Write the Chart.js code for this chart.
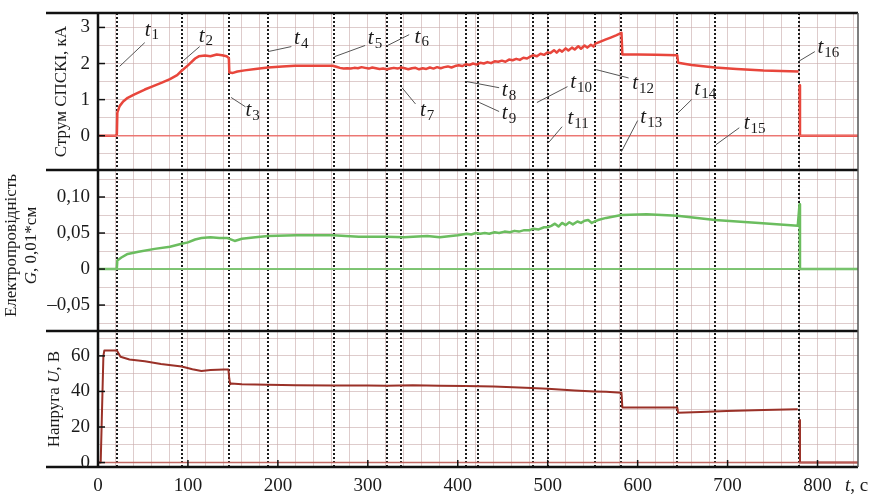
<!DOCTYPE html>
<html>
<head>
<meta charset="utf-8">
<script src="https://cdn.jsdelivr.net/npm/chart.js@4"></script>
<style>
  html, body { margin: 0; padding: 0; background: #fff; }
</style>
</head>
<body>
<canvas id="chart" width="876" height="496"></canvas>
<script>
// --- data ---
const timeMarks = [21, 93, 146, 189, 262, 321, 337, 409, 423, 484, 500, 553, 582, 644, 686, 779];

const currentT = [0, 20, 21, 21.5, 24, 28, 33, 40, 52, 60, 71, 80, 88, 93, 100, 108, 112, 119, 125, 132, 138, 143, 145.5, 146, 150, 155, 163, 175, 189, 205, 219, 240,
  261, 265, 269, 273, 277, 281, 285, 289, 293, 297, 301, 305, 309, 313, 317, 321, 325, 329, 333, 337, 341, 345, 349, 353, 357, 361, 365, 369, 373, 377, 381, 385, 389, 393, 397,
  401, 405, 409, 413, 417, 421, 425, 429, 433, 437, 441, 445, 449, 453, 457, 461, 465, 469, 473, 477, 481, 484, 488, 492, 496,
  500, 503, 507, 510, 513, 516, 520, 523, 527, 530, 534, 537, 541, 544, 548, 551, 553, 558, 564, 570, 576, 582,
  583, 600, 620, 644, 645, 660, 686, 710, 740, 779, 779.5, 780, 780.5, 845];
const currentKA = [0, 0, 0.05, 0.64, 0.82, 0.95, 1.05, 1.14, 1.28, 1.36, 1.47, 1.57, 1.68, 1.8, 1.95, 2.14, 2.2, 2.22, 2.2, 2.25, 2.23, 2.2, 2.15, 1.75, 1.74, 1.78, 1.81, 1.85, 1.89, 1.92, 1.94, 1.94,
  1.94, 1.91, 1.88, 1.86, 1.87, 1.86, 1.88, 1.87, 1.9, 1.88, 1.86, 1.89, 1.87, 1.85, 1.86, 1.84, 1.86, 1.88, 1.86, 1.89, 1.87, 1.84, 1.87, 1.88, 1.84, 1.87, 1.85, 1.89, 1.86, 1.9, 1.87, 1.9, 1.92, 1.89, 1.93,
  1.95, 1.93, 1.98, 1.96, 2.0, 1.97, 2.02, 2.0, 2.04, 2.01, 2.06, 2.05, 2.08, 2.05, 2.11, 2.09, 2.13, 2.1, 2.16, 2.14, 2.2, 2.23, 2.2, 2.27, 2.24,
  2.31, 2.29, 2.37, 2.3, 2.38, 2.33, 2.42, 2.36, 2.44, 2.39, 2.48, 2.41, 2.5, 2.44, 2.52, 2.47, 2.55, 2.6, 2.66, 2.72, 2.78, 2.85,
  2.25, 2.25, 2.24, 2.23, 2.02, 1.96, 1.89, 1.85, 1.81, 1.78, null, 1.4, 0, 0];

const condT = [0, 20, 21, 21.5, 26, 33, 45, 63, 80, 93, 100, 108, 115, 125, 135, 144, 152, 160, 175, 189, 220, 261, 290, 321, 340, 366, 380,
  400, 405, 410, 415, 420, 425, 430, 435, 441, 446, 452, 458, 463, 468, 474, 480, 484, 490, 496, 500, 504, 508, 512, 516, 520, 524, 528, 533, 537, 541, 545, 549, 552, 556,
  565, 582, 610, 644, 686, 735, 778, 780, 780.5, 845];
const condG = [0, 0, 0.002, 0.012, 0.016, 0.021, 0.024, 0.028, 0.031, 0.035, 0.037, 0.041, 0.043, 0.044, 0.043, 0.043, 0.039, 0.042, 0.044, 0.046, 0.047, 0.047, 0.045, 0.045, 0.044, 0.046, 0.044,
  0.047, 0.048, 0.049, 0.048, 0.05, 0.049, 0.05, 0.049, 0.051, 0.05, 0.052, 0.051, 0.053, 0.052, 0.054, 0.054, 0.056, 0.055, 0.058, 0.058, 0.06, 0.063, 0.059, 0.064, 0.061, 0.065, 0.062, 0.066, 0.064, 0.067, 0.068, 0.064, 0.066, 0.068,
  0.071, 0.075, 0.076, 0.074, 0.068, 0.064, 0.06, 0.09, 0, 0];

const voltT = [0, 3, 6, 7, 15, 21, 25, 35, 52, 70, 93, 105, 115, 125, 140, 145, 146, 147, 148, 160, 189, 220, 261, 300, 321, 350, 380, 408, 440, 482, 500, 530, 552, 565, 582,
  583, 600, 644, 645, 670, 699, 740, 778, 779, 780, 780.5, 845];
const voltU = [0, 0, 60, 63, 63, 63, 59.5, 58, 57, 55.5, 54, 52.5, 51.5, 52, 52.3, 52.3, 47, 44, 44.5, 44, 43.8, 43.5, 43.3, 43.4, 43.2, 43.5, 43.2, 43, 42.8, 42, 41.5, 40.5, 40, 39.8, 39.3,
  31, 31, 31, 28, 28.5, 29, 29.5, 30, null, 24, 0, 0];

const baseT = [0, 845];
const baseZero = [0, 0];

// tick values: grid lines and the labelled ones
const gridI = [-0.5, 0, 0.5, 1, 1.5, 2, 2.5, 3];
const labelsI = [0, 1, 2, 3];
const gridG = [-0.075, -0.05, -0.025, 0, 0.025, 0.05, 0.075, 0.1, 0.125];
const labelsG = [-0.05, 0, 0.05, 0.1];
const gridU = [0, 10, 20, 30, 40, 50, 60, 70];
const labelsU = [0, 20, 40, 60];
const labelsX = [0, 100, 200, 300, 400, 500, 600, 700, 800];

// t_i labels: leader line start/end and text position, in (s, kA) of the top panel
const markLabels = [
  { n: 1, from: [24, 1.92], to: [52, 2.58], at: [52, 2.92] },
  { n: 2, from: [94, 2.06], to: [113, 2.47], at: [112, 2.76] },
  { n: 3, from: [148, 1.06], to: [164, 0.8], at: [164, 0.69] },
  { n: 4, from: [189, 2.33], to: [215, 2.47], at: [218, 2.69] },
  { n: 5, from: [263, 2.19], to: [297, 2.5], at: [300, 2.69] },
  { n: 6, from: [322, 2.5], to: [346, 2.8], at: [352, 2.72] },
  { n: 7, from: [338, 1.33], to: [353, 0.88], at: [358, 0.69] },
  { n: 8, from: [410, 1.5], to: [446, 1.33], at: [449, 1.25] },
  { n: 9, from: [424, 0.92], to: [446, 0.67], at: [449, 0.61] },
  { n: 10, from: [488, 0.92], to: [522, 1.36], at: [525, 1.47] },
  { n: 11, from: [501, -0.19], to: [516, 0.25], at: [522, 0.47] },
  { n: 12, from: [554, 1.83], to: [590, 1.6], at: [594, 1.44] },
  { n: 13, from: [582, -0.44], to: [600, 0.42], at: [603, 0.5] },
  { n: 14, from: [644, 0.61], to: [660, 1.0], at: [663, 1.28] },
  { n: 15, from: [687, -0.25], to: [713, 0.22], at: [718, 0.33] },
  { n: 16, from: [779, 2.06], to: [797, 2.33], at: [800, 2.44] }
];

const SERIF = '"Liberation Serif", "DejaVu Serif", serif';

function pairs(xs, ys) {
  return xs.map((x, i) => ({ x: x, y: ys[i] }));
}

function isLabel(list, v) {
  return list.some(l => Math.abs(l - v) < 1e-9);
}

const fmtInt = v => String(Math.round(v));
const fmtG = v => {
  if (Math.abs(v) < 1e-9) return '0';
  return (v < 0 ? '–' : '') + Math.abs(v).toFixed(2).replace('.', ',');
};

const gridColor = 'rgba(200,170,170,0.6)';

function yAxis(grid, opts) {
  return Object.assign({
    type: 'linear',
    position: 'left',
    stack: 'panels',
    grid: { color: gridColor, drawTicks: false },
    border: { display: false },
    afterFit: s => { s.width = 98; },
    afterBuildTicks: s => { s.ticks = grid.map(v => ({ value: v })); },
    ticks: { display: false, autoSkip: false }
  }, opts);
}

// rotated axis title made of regular / italic pieces
function drawTitle(ctx, parts, cx, cy) {
  ctx.save();
  ctx.translate(cx, cy);
  ctx.rotate(-Math.PI / 2);
  ctx.textBaseline = 'middle';
  ctx.textAlign = 'left';
  let total = 0;
  parts.forEach(p => {
    ctx.font = (p[1] ? 'italic ' : '') + '17px ' + SERIF;
    total += ctx.measureText(p[0]).width;
  });
  let x = -total / 2;
  parts.forEach(p => {
    ctx.font = (p[1] ? 'italic ' : '') + '17px ' + SERIF;
    ctx.fillText(p[0], x, 0);
    x += ctx.measureText(p[0]).width;
  });
  ctx.restore();
}

const decor = {
  id: 'decor',
  beforeDatasetsDraw(chart) {
    const { ctx, chartArea: a, scales } = chart;
    ctx.save();
    ctx.strokeStyle = '#1c1c1c';
    ctx.lineWidth = 2;
    ctx.setLineDash([2, 2]);
    timeMarks.forEach(t => {
      const px = Math.round(scales.x.getPixelForValue(t));
      ctx.beginPath();
      ctx.moveTo(px, a.top);
      ctx.lineTo(px, a.bottom);
      ctx.stroke();
    });
    ctx.restore();
  },
  afterDraw(chart) {
    const { ctx, chartArea: a, scales } = chart;
    const { x, yI, yG, yU } = scales;
    ctx.save();

    // panel frames
    ctx.strokeStyle = '#111';
    ctx.lineWidth = 2.5;
    [a.top, yI.bottom, yG.bottom, a.bottom].forEach(y => {
      ctx.beginPath();
      ctx.moveTo(a.left - 52, y);
      ctx.lineTo(a.right, y);
      ctx.stroke();
    });
    ctx.beginPath();
    ctx.moveTo(a.left, a.top);
    ctx.lineTo(a.left, a.bottom);
    ctx.stroke();
    ctx.strokeStyle = '#555';
    ctx.lineWidth = 1.5;
    ctx.beginPath();
    ctx.moveTo(a.right, a.top);
    ctx.lineTo(a.right, a.bottom);
    ctx.stroke();

    // y tick labels and inward tick marks
    ctx.strokeStyle = '#111';
    ctx.lineWidth = 1.5;
    ctx.fillStyle = '#1a1a1a';
    ctx.font = '19px ' + SERIF;
    ctx.textAlign = 'right';
    ctx.textBaseline = 'middle';
    [[yI, labelsI, fmtInt], [yG, labelsG, fmtG], [yU, labelsU, fmtInt]].forEach(([s, vals, fmt]) => vals.forEach(v => {
      const py = s.getPixelForValue(v);
      ctx.beginPath();
      ctx.moveTo(a.left, py);
      ctx.lineTo(a.left + 7, py);
      ctx.stroke();
      ctx.fillText(fmt(v), a.left - 8, py);
    }));
    labelsX.slice(1).forEach(v => {
      const px = x.getPixelForValue(v);
      ctx.beginPath();
      ctx.moveTo(px, a.bottom);
      ctx.lineTo(px, a.bottom - 7);
      ctx.stroke();
    });

    // axis titles
    drawTitle(ctx, [['Струм СПСКІ, кА', false]], 62, (yI.top + yI.bottom) / 2);
    const gMid = (yG.top + yG.bottom) / 2 - 5;
    drawTitle(ctx, [['Електропровідність', false]], 12, gMid);
    drawTitle(ctx, [['G', true], [', 0,01*см', false]], 32, gMid);
    drawTitle(ctx, [['Напруга ', false], ['U', true], [', В', false]], 55, (yU.top + yU.bottom) / 2);

    // t_i labels with leader lines
    ctx.strokeStyle = '#555';
    ctx.lineWidth = 1;
    ctx.textBaseline = 'middle';
    ctx.textAlign = 'left';
    markLabels.forEach(m => {
      ctx.beginPath();
      ctx.moveTo(x.getPixelForValue(m.from[0]), yI.getPixelForValue(m.from[1]));
      ctx.lineTo(x.getPixelForValue(m.to[0]), yI.getPixelForValue(m.to[1]));
      ctx.stroke();
      const px = x.getPixelForValue(m.at[0]);
      const py = yI.getPixelForValue(m.at[1]);
      ctx.font = 'italic 21px ' + SERIF;
      ctx.fillText('t', px, py);
      const w = ctx.measureText('t').width;
      ctx.font = '15px ' + SERIF;
      ctx.fillText(String(m.n), px + w + 1, py + 5);
    });

    // unit at the right end of the time axis
    ctx.font = 'italic 19px ' + SERIF;
    const ux = a.right - 13;
    const uy = a.bottom + 19;
    ctx.fillText('t', ux, uy);
    const tw = ctx.measureText('t').width;
    ctx.font = '19px ' + SERIF;
    ctx.fillText(', с', ux + tw, uy);

    ctx.restore();
  }
};

const lineStyle = { pointRadius: 0, tension: 0, spanGaps: false, borderJoinStyle: 'round' };

new Chart(document.getElementById('chart'), {
  type: 'line',
  data: {
    datasets: [
      Object.assign({ data: pairs(baseT, baseZero), yAxisID: 'yI', borderColor: 'rgba(236,110,105,0.9)', borderWidth: 1.5 }, lineStyle),
      Object.assign({ data: pairs(currentT, currentKA), yAxisID: 'yI', borderColor: '#e8463c', borderWidth: 2.5 }, lineStyle),
      Object.assign({ data: pairs(baseT, baseZero), yAxisID: 'yG', borderColor: 'rgba(120,195,110,0.95)', borderWidth: 2 }, lineStyle),
      Object.assign({ data: pairs(condT, condG), yAxisID: 'yG', borderColor: '#6bbd5f', borderWidth: 2.5 }, lineStyle),
      Object.assign({ data: pairs(baseT, baseZero), yAxisID: 'yU', borderColor: 'rgba(190,95,90,0.9)', borderWidth: 1.5 }, lineStyle),
      Object.assign({ data: pairs(voltT, voltU), yAxisID: 'yU', borderColor: '#9a3128', borderWidth: 2 }, lineStyle)
    ]
  },
  options: {
    responsive: false,
    animation: false,
    devicePixelRatio: 1,
    layout: { padding: { top: 13, right: 18, left: 0, bottom: 0 } },
    plugins: { legend: { display: false }, tooltip: { enabled: false } },
    scales: {
      x: {
        type: 'linear',
        min: 0,
        max: 845,
        grid: { color: gridColor, drawTicks: false },
        border: { display: false },
        afterFit: s => { s.height = 29; },
        ticks: {
          stepSize: 20,
          includeBounds: false,
          autoSkip: false,
          maxRotation: 0,
          padding: 8,
          color: '#1a1a1a',
          font: { family: SERIF, size: 19 },
          callback: v => isLabel(labelsX, v) ? String(v) : ''
        }
      },
      yU: yAxis(gridU, { stackWeight: 136, min: -2.5, max: 74 }),
      yG: yAxis(gridG, { stackWeight: 161, min: -0.086, max: 0.1375 }),
      yI: yAxis(gridI, { stackWeight: 157, min: -0.95, max: 3.4 })
    }
  },
  plugins: [decor]
});
</script>
</body>
</html>
